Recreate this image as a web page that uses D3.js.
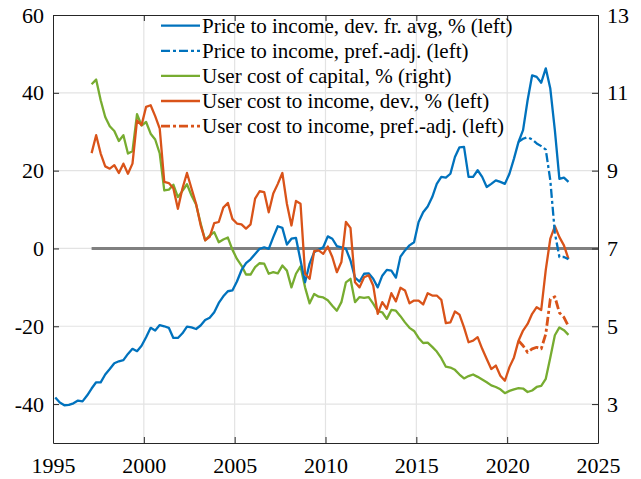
<!DOCTYPE html>
<html>
<head>
<meta charset="utf-8">
<script src="https://cdn.jsdelivr.net/npm/d3@7"></script>
<style>
  body { margin: 0; background: #fff; }
  svg { display: block; }
  text { font-family: "Liberation Serif", "Times New Roman", serif; fill: #000; }
</style>
</head>
<body>
<div id="chart"></div>
<script>
// quarterly series, first value is the first quarter of the start year
var priceStart = 1995;
var priceIncome = [
   -38.3, -39.6, -40.3, -40.2,
   -39.8, -39.1, -39.3, -37.8,
   -36.0, -34.4, -34.4, -32.4,
   -31.0, -29.5, -29.0, -28.7,
   -27.1, -25.8, -26.4, -25.0,
   -22.8, -20.4, -21.1, -19.7,
   -20.0, -20.4, -23.0, -23.0,
   -21.8, -20.1, -20.3, -20.7,
   -19.8, -18.4, -17.8, -16.4,
   -14.0, -12.3, -11.0, -10.8,
   -8.5, -5.6, -3.8, -2.8,
   -1.4, -0.1, 0.3, -0.1,
   2.9, 5.7, 5.3, 1.0,
   2.5, 2.7, -3.1, -8.7,
   -3.9, -1.0, -0.3, 0.3,
   3.1, 2.5, 0.6, 0.3,
   -0.1, -3.1, -7.5, -8.5,
   -6.5, -6.4, -7.8, -10.0,
   -7.0, -5.5, -5.7, -7.5,
   -2.1, -0.5, 0.8, 1.6,
   6.8, 9.3, 10.8, 13.2,
   16.6, 18.4, 18.2, 19.2,
   23.5, 26.0, 26.1, 18.4,
   18.4, 20.1, 18.4, 15.8,
   16.6, 17.5, 17.1, 16.6,
   19.2, 23.1, 27.4, 30.4,
   38.1, 44.5, 44.1, 42.6,
   46.3, 41.1, 30.4, 17.9,
   18.2, 17.1
];

var adjStart = 2020.5; // third quarter of 2020
var priceIncomeAdj = [27.4, 28.2, 28.6, 28.0, 27.0, 26.3, 25.4, 17.5, 4.0, -2.2, -2.2, -2.8];

var costStart = 1997;
var userCost = [ // right axis, %
   11.22, 11.34, 10.81, 10.38,
   10.14, 10.02, 9.76, 9.91,
   9.44, 9.50, 10.45, 10.16,
   10.25, 9.95, 9.80, 9.44,
   8.49, 8.51, 8.64, 8.32,
   8.48, 8.65, 8.36, 8.13,
   7.65, 7.21, 7.33, 7.42,
   7.16, 7.23, 7.28, 6.97,
   6.73, 6.56, 6.33, 6.33,
   6.52, 6.62, 6.61, 6.35,
   6.39, 6.36, 6.56, 6.43,
   6.00, 6.35, 6.54, 6.00,
   5.59, 5.83, 5.76, 5.74,
   5.67, 5.53, 5.40, 5.62,
   6.13, 6.22, 5.62, 5.75,
   5.73, 5.75, 5.58, 5.39,
   5.36, 5.19, 5.42, 5.40,
   5.26, 5.10, 4.96, 4.88,
   4.70, 4.57, 4.58, 4.47,
   4.35, 4.18, 3.96, 3.94,
   3.88, 3.76, 3.66, 3.72,
   3.76, 3.70, 3.63, 3.56,
   3.48, 3.44, 3.38, 3.28,
   3.34, 3.38, 3.41, 3.40,
   3.31, 3.35, 3.44, 3.47,
   3.65, 4.20, 4.77, 4.97,
   4.90, 4.78
];

var costIncome = [
   24.5, 29.1, 24.4, 21.1,
   20.5, 21.4, 19.4, 21.8,
   19.2, 21.8, 32.9, 31.7,
   36.4, 36.8, 34.0, 30.8,
   17.1, 16.8, 15.5, 10.2,
   15.4, 19.4, 15.4, 11.5,
   6.0, 2.1, 3.0, 6.5,
   6.8, 10.5, 11.7, 7.6,
   6.4, 6.2, 5.1, 6.2,
   12.8, 14.7, 14.5, 9.3,
   14.1, 16.6, 19.4, 11.5,
   5.9, 12.2, 11.5, -6.5,
   -7.8, -0.7, -0.5, -1.4,
   0.5, -2.2, -6.1, -3.5,
   6.8, 5.3, -8.7, -10.0,
   -7.4, -6.9, -9.5, -16.8,
   -13.8, -15.5, -11.5, -13.6,
   -10.1, -10.8, -14.1, -13.4,
   -13.4, -14.4, -11.5, -12.1,
   -12.1, -13.2, -19.2, -19.0,
   -16.2, -17.0, -20.3, -24.1,
   -23.7, -22.8, -25.8, -28.4,
   -31.0, -30.1, -32.7, -34.0,
   -30.5, -28.0, -23.7, -21.1,
   -19.4, -16.8, -15.1, -15.8,
   -5.5, 2.5, 5.7, 2.9,
   0.8, -2.7
];

var costIncomeAdj = [-23.7, -25.0, -26.7, -25.8, -25.4, -25.8, -22.0, -13.0, -12.4, -16.5, -17.7, -20.0];

var yearTicks = [1995, 2000, 2005, 2010, 2015, 2020, 2025];
var leftTicks = [-40, -20, 0, 20, 40, 60];
var rightTicks = [3, 5, 7, 9, 11, 13];

var legendLabels = [
   "Price to income, dev. fr. avg, % (left)",
   "Price to income, pref.-adj. (left)",
   "User cost of capital, % (right)",
   "User cost to income, dev., % (left)",
   "User cost to income, pref.-adj. (left)"
];

var blue = "#0072BD", orange = "#D95319", green = "#77AC30";
var dashDot = "9,3,3,3";
var serif = "Liberation Serif, Times New Roman, serif";

// mid-quarter dates
function quarterly(start, values) {
   return values.map(function(v, i) { return { t: start + i / 4 + 0.125, v: v }; });
}

var W = 641, H = 479;
var plot = { left: 53, right: 598, top: 15, bottom: 443 };

var x = d3.scaleLinear().domain([1995, 2025]).range([plot.left, plot.right]);
var yL = d3.scaleLinear().domain([-50, 60]).range([plot.bottom, plot.top]);
var yR = d3.scaleLinear().domain([2, 13]).range([plot.bottom, plot.top]);

var svg = d3.select("#chart").append("svg").attr("width", W).attr("height", H);

svg.append("defs").append("clipPath").attr("id", "clip")
   .append("rect")
   .attr("x", plot.left).attr("y", plot.top)
   .attr("width", plot.right - plot.left).attr("height", plot.bottom - plot.top);

// grid
var grid = svg.append("g").attr("class", "grid");
grid.selectAll("line.v").data(yearTicks.slice(1, -1)).enter().append("line")
   .attr("x1", function(d) { return x(d); }).attr("x2", function(d) { return x(d); })
   .attr("y1", plot.top).attr("y2", plot.bottom)
   .attr("stroke", "#e3e3e3").attr("stroke-width", 1.2);
grid.selectAll("line.h").data(leftTicks.filter(function(d) { return d != 60; })).enter().append("line")
   .attr("x1", plot.left).attr("x2", plot.right)
   .attr("y1", function(d) { return yL(d); }).attr("y2", function(d) { return yL(d); })
   .attr("stroke", "#e3e3e3").attr("stroke-width", 1.2);

var lines = svg.append("g").attr("clip-path", "url(#clip)");

// zero line from the start of the user cost data
lines.append("line")
   .attr("x1", x(costStart + 0.125)).attr("x2", plot.right)
   .attr("y1", yL(0)).attr("y2", yL(0))
   .attr("stroke", "#808080").attr("stroke-width", 3);

var lineL = d3.line().x(function(d) { return x(d.t); }).y(function(d) { return yL(d.v); });
var lineR = d3.line().x(function(d) { return x(d.t); }).y(function(d) { return yR(d.v); });

var series = [
   { data: quarterly(priceStart, priceIncome), gen: lineL, color: blue, dash: null, width: 2.3 },
   { data: quarterly(adjStart, priceIncomeAdj), gen: lineL, color: blue, dash: dashDot, width: 2.3 },
   { data: quarterly(costStart, userCost), gen: lineR, color: green, dash: null, width: 2.3 },
   { data: quarterly(costStart, costIncome), gen: lineL, color: orange, dash: null, width: 2.3 },
   { data: quarterly(adjStart, costIncomeAdj), gen: lineL, color: orange, dash: dashDot, width: 2.8 }
];

// draw green and solids first, dashed on top
[2, 0, 3, 1, 4].forEach(function(k) {
   var s = series[k];
   lines.append("path")
      .attr("d", s.gen(s.data))
      .attr("fill", "none")
      .attr("stroke", s.color)
      .attr("stroke-width", s.width)
      .attr("stroke-linejoin", "round")
      .attr("stroke-dasharray", s.dash);
});

// axes, ticks pointing inward
var axisColor = "#262626";
var fmt = function(d) { return String(d); };

var gBottom = svg.append("g").attr("transform", "translate(0," + plot.bottom + ")")
   .call(d3.axisBottom(x).tickValues(yearTicks).tickFormat(fmt).tickSizeInner(-6).tickSizeOuter(0).tickPadding(14));
var gTop = svg.append("g").attr("transform", "translate(0," + plot.top + ")")
   .call(d3.axisTop(x).tickValues(yearTicks).tickFormat("").tickSizeInner(-6).tickSizeOuter(0));
var gLeft = svg.append("g").attr("transform", "translate(" + plot.left + ",0)")
   .call(d3.axisLeft(yL).tickValues(leftTicks).tickFormat(fmt).tickSizeInner(-6).tickSizeOuter(0).tickPadding(9));
var gRight = svg.append("g").attr("transform", "translate(" + plot.right + ",0)")
   .call(d3.axisRight(yR).tickValues(rightTicks).tickFormat(fmt).tickSizeInner(-6).tickSizeOuter(0).tickPadding(9));

[gBottom, gTop, gLeft, gRight].forEach(function(g) {
   g.attr("font-family", serif).attr("font-size", 22);
   g.select(".domain").attr("stroke", axisColor).attr("stroke-width", 1);
   g.selectAll(".tick line").attr("stroke", axisColor).attr("stroke-width", 1);
   g.selectAll(".tick text")
      .attr("font-family", serif)
      .attr("font-size", 22)
      .attr("fill", "#000");
});

// legend, no box
var legend = svg.append("g").attr("class", "legend").attr("font-family", serif);
var entries = legend.selectAll("g").data(series).enter().append("g")
   .attr("transform", function(d, i) { return "translate(0," + (25.7 + i * 25.1) + ")"; });

entries.append("line")
   .attr("x1", 161).attr("x2", 200).attr("y1", 0).attr("y2", 0)
   .attr("stroke", function(d) { return d.color; })
   .attr("stroke-width", function(d) { return d.width; })
   .attr("stroke-dasharray", function(d) { return d.dash; });

entries.append("text")
   .attr("x", 202).attr("y", 0).attr("dy", "0.33em")
   .attr("font-size", 21)
   .text(function(d, i) { return legendLabels[i]; });
</script>
</body>
</html>
